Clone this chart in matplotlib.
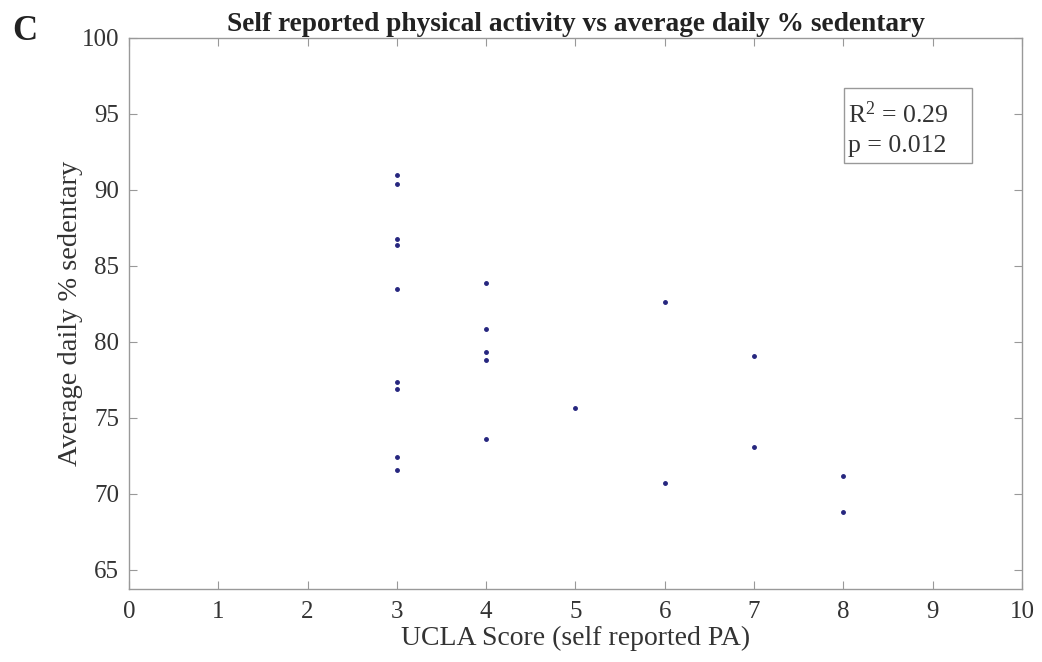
import numpy as np
import matplotlib.pyplot as plt
from matplotlib.patches import Rectangle

plt.rcParams['font.family'] = ['Liberation Serif', 'DejaVu Serif']

# UCLA activity score vs average daily % sedentary, one point per subject
ucla = [3, 3, 3, 3, 3, 3, 3, 3, 3,
        4, 4, 4, 4, 4,
        5,
        6, 6,
        7, 7,
        8, 8]
sedentary = [91.0, 90.4, 86.8, 86.4, 83.5, 77.4, 76.9, 72.45, 71.6,
             83.9, 80.85, 79.35, 78.8, 73.65,
             75.65,
             82.6, 70.7,
             79.05, 73.1,
             71.2, 68.8]

r2 = 0.29
pval = 0.012

txtc = '#333333'
axc = '#999999'

fig = plt.figure(figsize=(10.42, 6.62), dpi=100)
ax = fig.add_axes([0.1238, 0.1103, 0.8570, 0.8323])

ax.plot(ucla, sedentary, '.', color='#26267f', markersize=5)

ax.set_xlim(0, 10)
ax.set_ylim(63.75, 100)
ax.set_xticks(np.arange(0, 11, 1))
ax.set_yticks(np.arange(65, 101, 5))
ax.tick_params(direction='in', top=True, right=True, length=6, width=0.8,
               color=axc, labelsize=18, labelcolor=txtc)
ax.tick_params(axis='x', pad=9)
ax.tick_params(axis='y', pad=7)
for s in ax.spines.values():
    s.set_color(axc)
    s.set_linewidth(1.0)

ax.set_xlabel('UCLA Score (self reported PA)', fontsize=20, color=txtc, labelpad=2)
ax.set_ylabel('Average daily % sedentary', fontsize=20.5, color=txtc)
ax.yaxis.set_label_coords(-0.052, 0.5)
ax.set_title('Self reported physical activity vs average daily % sedentary',
             fontsize=19.7, fontweight='bold', color='#222222', pad=5)

fig.text(0.0115, 0.9396, 'C', fontsize=25, fontweight='bold', color='#222222',
         va='baseline')

# stats box
ax.add_patch(Rectangle((0.8007, 0.7731), 0.1433, 0.1362, transform=ax.transAxes,
                       fc='white', ec=axc, lw=1.0, zorder=3))
ax.text(0.8052, 0.8457, '$\\mathregular{R^2}$ = %.2f' % r2, transform=ax.transAxes,
        fontsize=18.5, color=txtc, va='baseline', ha='left', zorder=4)
ax.text(0.8052, 0.7931, 'p = %.3f' % pval, transform=ax.transAxes,
        fontsize=18.5, color=txtc, va='baseline', ha='left', zorder=4)

fig.savefig('out.png', dpi=100)
